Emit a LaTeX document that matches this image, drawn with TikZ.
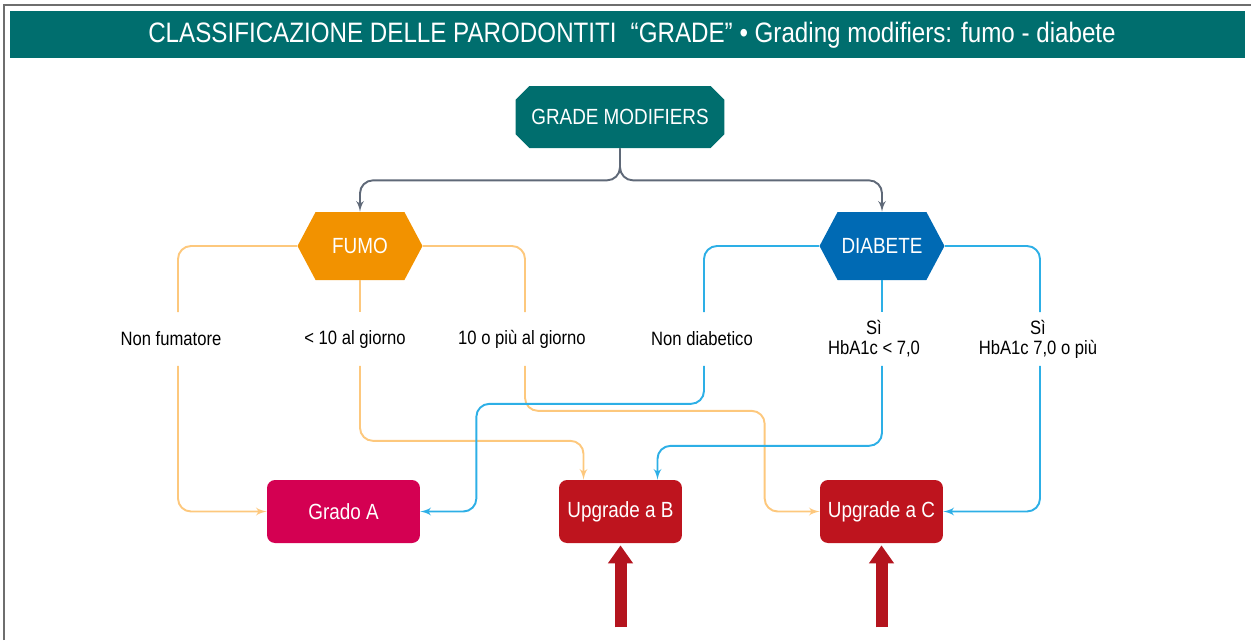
\documentclass[tikz,border=0pt]{standalone}
\usepackage{fontspec}
\setmainfont{Liberation Sans}[FakeStretch=0.86]
\usetikzlibrary{arrows}
\usetikzlibrary{arrows.meta}
\usetikzlibrary{calc}
\usetikzlibrary{shapes.misc}
\usetikzlibrary{shapes.symbols}

\definecolor{cTeal}{RGB}{0,110,110}
\definecolor{cFrame}{RGB}{110,110,110}
\definecolor{cGrey}{RGB}{95,105,120}
\definecolor{cFumo}{RGB}{242,146,0}
\definecolor{cDiab}{RGB}{0,106,180}
\definecolor{cFumoLine}{RGB}{253,200,125}
\definecolor{cDiabLine}{RGB}{45,175,230}
\definecolor{cGradoA}{RGB}{212,0,82}
\definecolor{cUpgrade}{RGB}{190,20,30}
\definecolor{cArrow}{RGB}{180,20,30}

\tikzset{
  topbox/.style={chamfered rectangle, chamfered rectangle xsep=0.28cm,
    fill=cTeal, text=white, minimum width=4.18cm, minimum height=1.24cm,
    inner sep=0pt, font=\fontsize{12.5}{14}\selectfont},
  hexbox/.style={signal, signal to=east and west, signal pointer angle=124,
    text=white, minimum width=2.5cm, minimum height=1.36cm, inner sep=0pt,
    font=\fontsize{12.5}{14}\selectfont},
  resultbox/.style={rounded corners=0.16cm, text=white, minimum height=1.26cm,
    inner sep=0pt, font=\fontsize{12.5}{14}\selectfont},
  choice/.style={minimum height=1.06cm, inner sep=0pt, align=center,
    font=\fontsize{11}{11.5}\selectfont},
  greyline/.style={draw=cGrey, line width=1.1pt, rounded corners=0.26cm},
  fumoline/.style={draw=cFumoLine, line width=1.1pt, rounded corners=0.26cm},
  diabline/.style={draw=cDiabLine, line width=1.1pt, rounded corners=0.26cm},
  uparrow/.style={draw=cArrow, line width=0.24cm, -{Triangle[width=0.48cm,length=0.36cm]}}
}

\begin{document}
\begin{tikzpicture}[x=0.02cm, y=-0.02cm]
  \useasboundingbox (0,0) rectangle (1251,640);
  % frame and title band
  \draw[cFrame, line width=0.03cm] (4,640) -- (4,5) -- (1251,5);
  \fill[cTeal] (10,11) rectangle (1245,58);
  \node[text=white, font=\fontsize{16}{19}\selectfont] (title) at (632,35)
    {CLASSIFICAZIONE DELLE PARODONTITI\enspace “GRADE” • Grading modifiers: fumo - diabete};

  % main nodes
  \node[topbox] (gm) at (620,117) {GRADE MODIFIERS};
  \node[hexbox, fill=cFumo] (fumo) at (360,246) {FUMO};
  \node[hexbox, fill=cDiab] (diab) at (882,246) {DIABETE};

  % choices
  \node[choice] (nonfum) at (171,339) {Non fumatore};
  \node[choice] (meno) at (355,339) {< 10 al giorno};
  \node[choice] (dieci) at (522,339) {10 o più al giorno};
  \node[choice] (nondiab) at (702,339) {Non diabetico};
  \node[choice] (sibasso) at (874,339) {Sì\\HbA1c < 7,0};
  \node[choice] (sialto) at (1038,339) {Sì\\HbA1c 7,0 o più};

  % results
  \node[resultbox, fill=cGradoA, minimum width=3.06cm] (gradoA) at (343.5,511.5) {Grado A};
  \node[resultbox, fill=cUpgrade, minimum width=2.46cm] (upB) at (620.5,511.5) {Upgrade a B};
  \node[resultbox, fill=cUpgrade, minimum width=2.46cm] (upC) at (881.5,511.5) {Upgrade a C};

  % grey split
  \draw[greyline, -latex'] (gm.south) -- ++(0,32) -| (fumo.north);
  \draw[greyline, -latex'] (gm.south) -- ++(0,32) -| (diab.north);

  % fumo branches
  \draw[fumoline] (fumo.west) -| (nonfum.north -| 178,0);
  \draw[fumoline, -latex'] (nonfum.south -| 178,0) |- (gradoA.west);
  \draw[fumoline] (fumo.south) -- (fumo.south |- meno.north);
  \draw[fumoline, -latex'] (fumo.south |- meno.south) -- ++(0,75) -| ($(upB.north)+(-37,0)$);
  \draw[fumoline] (fumo.east) -| (dieci.north -| 525,0);
  \draw[fumoline, -latex'] (dieci.south -| 525,0) -- ++(0,45) -| ($(upC.west)+(-55,0)$) -- (upC.west);

  % diabete branches
  \draw[diabline] (diab.west) -| (nondiab.north -| 704,0);
  \draw[diabline, -latex'] (nondiab.south -| 704,0) -- ++(0,38) -| ($(gradoA.east)+(56,0)$) -- (gradoA.east);
  \draw[diabline] (diab.south) -- (diab.south |- sibasso.north);
  \draw[diabline, -latex'] (diab.south |- sibasso.south) -- ++(0,80) -| ($(upB.north)+(37,0)$);
  \draw[diabline] (diab.east) -| (sialto.north -| 1040,0);
  \draw[diabline, -latex'] (sialto.south -| 1040,0) |- (upC.east);

  % upgrade arrows
  \draw[uparrow] ($(upB.south)+(0,84)$) -- ($(upB.south)+(0,2)$);
  \draw[uparrow] ($(upC.south)+(0,84)$) -- ($(upC.south)+(0,2)$);
\end{tikzpicture}
\end{document}
